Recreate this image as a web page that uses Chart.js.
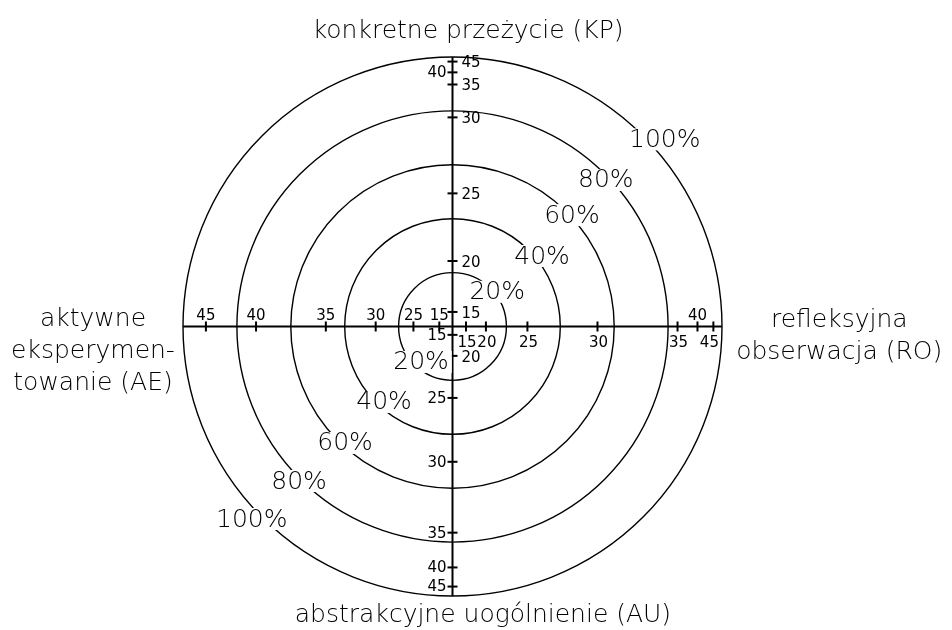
<!DOCTYPE html>
<html>
<head>
<meta charset="utf-8">
<script src="https://cdn.jsdelivr.net/npm/chart.js@4.4.0/dist/chart.umd.min.js"></script>
<style>
  body { margin: 0; background: #fff; }
  #wrap { width: 952px; height: 630px; }
</style>
</head>
<body>
<div id="wrap"><canvas id="kolb-chart" width="952" height="630"></canvas></div>
<script>
// percentile rings
const ringValues = [20, 40, 60, 80, 100];
const ringLabels = ['20%', '40%', '60%', '80%', '100%'];

// raw scores on each axis and where they sit (in % of the outer ring)
const kpScores = [15, 20, 25, 30, 35, 40, 45];
const kpRadius = [5.4, 24.3, 49.4, 77.6, 89.8, 94.3, 98.3];
const roScores = [15, 20, 25, 30, 35, 40, 45];
const roRadius = [5.0, 12.4, 27.8, 53.8, 83.5, 90.9, 96.8];
const auScores = [15, 20, 25, 30, 35, 40, 45];
const auRadius = [3.1, 10.9, 26.5, 50.2, 76.5, 89.4, 96.5];
const aeScores = [15, 25, 30, 35, 40, 45];
const aeRadius = [4.9, 14.5, 28.5, 47.0, 72.9, 91.5];

// axis titles
const kpTitle = ['konkretne przeżycie (KP)'];
const roTitle = ['refleksyjna', 'obserwacja (RO)'];
const auTitle = ['abstrakcyjne uogólnienie (AU)'];
const aeTitle = ['aktywne', 'eksperymen-', 'towanie (AE)'];

const R = Math.max(...ringValues);
const bigFont = '200 25px "DejaVu Sans"';
const smallFont = '15px "DejaVu Sans"';

// where the % labels sit on each ring: [angle in degrees, offset from ring]
const labelSpotsUpper = [[37.8, 1], [38.2, 2.3], [43, 0.6], [43.7, -1.3], [41.4, 5]];
const labelSpotsLower = [[228.4, -2.4], [227.8, -2.2], [227.3, -1.2], [225.2, 0.8], [223.8, 3.2]];

const tickSet = (pts, rot) => ({
    type: 'scatter',
    data: pts,
    pointStyle: 'line',
    pointRadius: 5,
    pointHoverRadius: 5,
    pointRotation: rot,
    borderColor: '#000',
    borderWidth: 2,
    clip: false,
});

const axisLine = (pts) => ({
    type: 'line',
    data: pts,
    borderColor: '#000',
    borderWidth: 2,
    pointRadius: 0,
    fill: false,
    clip: false,
});

// rings, percent labels, tick numbers, titles
const kolbPlugin = {
    id: 'kolb',
    beforeDatasetsDraw(chart) {
        const { ctx, scales: { x, y } } = chart;
        const cx = x.getPixelForValue(0), cy = y.getPixelForValue(0);
        ctx.save();
        ctx.strokeStyle = '#000';
        ctx.lineWidth = 1.4;
        ringValues.forEach(v => {
            const r = x.getPixelForValue(v) - cx;
            ctx.beginPath();
            ctx.arc(cx, cy, r, 0, Math.PI * 2);
            ctx.stroke();
        });
        ctx.restore();
    },
    afterDatasetsDraw(chart) {
        const { ctx, scales: { x, y } } = chart;
        const px = v => x.getPixelForValue(v), py = v => y.getPixelForValue(v);
        ctx.save();

        // percent labels on the rings, with a gap cut into the ring
        ctx.font = bigFont;
        ctx.textAlign = 'center';
        ctx.textBaseline = 'middle';
        [labelSpotsUpper, labelSpotsLower].forEach(spots => {
            ringValues.forEach((v, i) => {
                const a = spots[i][0] * Math.PI / 180, r = v + spots[i][1];
                const lx = px(r * Math.cos(a)), ly = py(r * Math.sin(a));
                const w = ctx.measureText(ringLabels[i]).width;
                ctx.fillStyle = '#fff';
                ctx.fillRect(lx - w / 2 - 3, ly - 11, w + 6, 22);
                ctx.fillStyle = '#000';
                ctx.fillText(ringLabels[i], lx, ly + 1);
            });
        });

        // score numbers along the axes
        ctx.font = smallFont;
        ctx.fillStyle = '#000';
        const put = (txt, tx, ty, side) => {
            if (side === 'right') { ctx.textAlign = 'left'; ctx.textBaseline = 'middle'; ctx.fillText(txt, tx + 9, ty + 2); }
            if (side === 'left') { ctx.textAlign = 'right'; ctx.textBaseline = 'middle'; ctx.fillText(txt, tx - 6, ty + 1); }
            if (side === 'above') { ctx.textAlign = 'center'; ctx.textBaseline = 'alphabetic'; ctx.fillText(txt, tx, ty - 7); }
            if (side === 'below') { ctx.textAlign = 'center'; ctx.textBaseline = 'top'; ctx.fillText(txt, tx + 1, ty + 9); }
        };
        kpScores.forEach((s, i) => put(String(s), px(0), py(kpRadius[i]), s === 40 ? 'left' : 'right'));
        auScores.forEach((s, i) => put(String(s), px(0), py(-auRadius[i]), s === 20 ? 'right' : 'left'));
        aeScores.forEach((s, i) => put(String(s), px(-aeRadius[i]), py(0), 'above'));
        roScores.forEach((s, i) => put(String(s), px(roRadius[i]) - (s === 45 ? 5 : 0), py(0), s === 40 ? 'above' : 'below'));

        // axis titles
        ctx.font = bigFont;
        ctx.textAlign = 'center';
        ctx.textBaseline = 'alphabetic';
        const title = (lines, tx, ty) => lines.forEach((t, i) => ctx.fillText(t, px(tx), py(ty) + i * 32));
        title(kpTitle, 5.8, 107);
        title(auTitle, 11.3, -109.6);
        title(aeTitle, -133.4, 0.2);
        title(roTitle, 143.5, -0.2);
        ctx.restore();
    }
};

new Chart(document.getElementById('kolb-chart'), {
    type: 'scatter',
    data: {
        datasets: [
            axisLine([{ x: -R, y: 0 }, { x: R, y: 0 }]),
            axisLine([{ x: 0, y: -R }, { x: 0, y: R }]),
            tickSet(kpRadius.map(r => ({ x: 0, y: r })), 0),
            tickSet(auRadius.map(r => ({ x: 0, y: -r })), 0),
            tickSet(aeRadius.map(r => ({ x: -r, y: 0 })), 90),
            tickSet(roRadius.map(r => ({ x: r, y: 0 })), 90),
        ]
    },
    options: {
        responsive: false,
        animation: false,
        events: [],
        layout: { padding: { left: 183, right: 230, top: 57, bottom: 34 } },
        scales: {
            x: { type: 'linear', min: -R, max: R, display: false },
            y: { type: 'linear', min: -R, max: R, display: false },
        },
        plugins: {
            legend: { display: false },
            tooltip: { enabled: false },
        }
    },
    plugins: [kolbPlugin]
});
</script>
</body>
</html>
